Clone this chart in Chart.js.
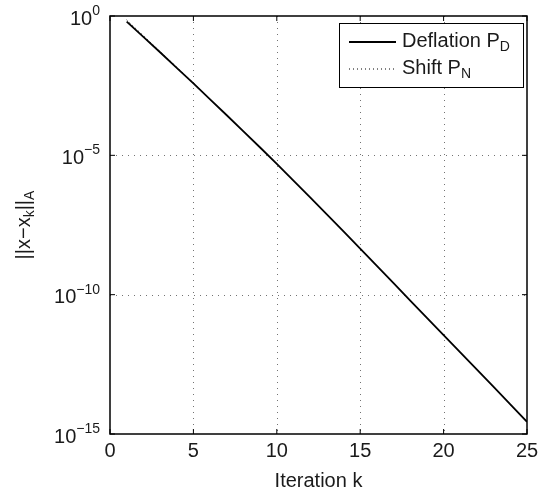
<!DOCTYPE html>
<html>
<head>
<meta charset="utf-8">
<script src="https://cdn.jsdelivr.net/npm/chart.js"></script>
<style>
    html, body { margin: 0; padding: 0; background: #fff; }
    #wrap { width: 543px; height: 494px; }
</style>
</head>
<body>
<div id="wrap"><canvas id="myChart" width="543" height="494"></canvas></div>

<script>
    // iteration numbers and A-norm errors for both preconditioners
    var iterations = [1, 2, 3, 4, 5, 6, 7, 8, 9, 10, 11, 12, 13, 14, 15, 16, 17, 18, 19, 20, 21, 22, 23, 24, 25];
    var deflationErr = [6.31e-1, 1.78e-1, 5.01e-2, 1.38e-2, 3.80e-3, 1.02e-3, 2.75e-4, 7.24e-5, 1.91e-5, 4.90e-6,
        1.23e-6, 3.09e-7, 7.59e-8, 1.86e-8, 4.47e-9, 1.07e-9, 2.57e-10, 6.17e-11, 1.48e-11, 3.55e-12,
        8.51e-13, 2.04e-13, 4.90e-14, 1.15e-14, 2.75e-15];
    var shiftErr = [7.24e-1, 1.95e-1, 5.37e-2, 1.45e-2, 3.98e-3, 1.02e-3, 2.75e-4, 7.24e-5, 1.91e-5, 4.90e-6,
        1.23e-6, 3.09e-7, 7.59e-8, 1.86e-8, 4.47e-9, 1.07e-9, 2.57e-10, 6.17e-11, 1.48e-11, 3.55e-12,
        8.51e-13, 2.04e-13, 4.90e-14, 1.15e-14, 2.75e-15];
    var xTicks = [0, 5, 10, 15, 20, 25];
    var yExponents = [0, -5, -10, -15];

    var FONT = '"Liberation Sans", Arial, sans-serif';
    var BIG = '20px ' + FONT, SMALL = '14px ' + FONT;
    var gridDash = [1, 5];

    function pts(ys) {
        return iterations.map(function (k, i) { return { x: k, y: ys[i] }; });
    }

    // axes frame, dotted grid, inward ticks, labels with super/subscripts, legend
    var matlabAxes = {
        id: 'matlabAxes',
        beforeDatasetsDraw: function (chart) {
            var ctx = chart.ctx, a = chart.chartArea;
            var xs = chart.scales.x, ys = chart.scales.y;
            ctx.save();
            ctx.strokeStyle = 'rgba(0,0,0,0.55)';
            ctx.lineWidth = 1;
            ctx.setLineDash(gridDash);
            xTicks.forEach(function (t) {
                if (t === 0 || t === 25) return;
                var px = Math.round(xs.getPixelForValue(t)) + 0.5;
                ctx.beginPath(); ctx.moveTo(px, a.top); ctx.lineTo(px, a.bottom); ctx.stroke();
            });
            yExponents.forEach(function (e) {
                if (e === 0 || e === -15) return;
                var py = Math.round(ys.getPixelForValue(Math.pow(10, e))) + 0.5;
                ctx.beginPath(); ctx.moveTo(a.left, py); ctx.lineTo(a.right, py); ctx.stroke();
            });
            ctx.restore();
        },
        afterDatasetsDraw: function (chart) {
            var ctx = chart.ctx, a = chart.chartArea;
            var xs = chart.scales.x, ys = chart.scales.y;
            ctx.save();
            ctx.setLineDash([]);
            ctx.strokeStyle = '#000';
            ctx.lineWidth = 1.5;
            ctx.strokeRect(a.left, a.top, a.right - a.left, a.bottom - a.top);

            // inward tick marks
            ctx.lineWidth = 1;
            xTicks.forEach(function (t) {
                var px = xs.getPixelForValue(t);
                ctx.beginPath();
                ctx.moveTo(px, a.bottom); ctx.lineTo(px, a.bottom - 5);
                ctx.moveTo(px, a.top); ctx.lineTo(px, a.top + 5);
                ctx.stroke();
            });
            yExponents.forEach(function (e) {
                var py = ys.getPixelForValue(Math.pow(10, e));
                ctx.beginPath();
                ctx.moveTo(a.left, py); ctx.lineTo(a.left + 5, py);
                ctx.moveTo(a.right, py); ctx.lineTo(a.right - 5, py);
                ctx.stroke();
            });

            ctx.fillStyle = '#1a1a1a';
            // x tick labels
            ctx.font = BIG;
            ctx.textAlign = 'center';
            ctx.textBaseline = 'middle';
            xTicks.forEach(function (t) {
                ctx.fillText(String(t), xs.getPixelForValue(t), a.bottom + 17);
            });
            ctx.fillText('Iteration k', (a.left + a.right) / 2, a.bottom + 47);

            // y tick labels: 10^e
            yExponents.forEach(function (e) {
                var py = ys.getPixelForValue(Math.pow(10, e));
                var exp = e === 0 ? '0' : '\u2212' + String(-e);
                ctx.font = SMALL;
                var ew = ctx.measureText(exp).width;
                ctx.textAlign = 'right';
                ctx.fillText(exp, a.left - 10, py - 5);
                ctx.font = BIG;
                ctx.fillText('10', a.left - 10 - ew, py + 3);
            });

            // y axis title ||x-x_k||_A
            ctx.translate(24, (a.top + a.bottom) / 2);
            ctx.rotate(-Math.PI / 2);
            var p1 = '||x\u2212x', p2 = 'k', p3 = '||', p4 = 'A';
            ctx.font = BIG;
            var w1 = ctx.measureText(p1).width, w3 = ctx.measureText(p3).width;
            ctx.font = SMALL;
            var w2 = ctx.measureText(p2).width, w4 = ctx.measureText(p4).width;
            var x0 = -(w1 + w2 + w3 + w4) / 2;
            ctx.textAlign = 'left';
            ctx.font = BIG;
            ctx.fillText(p1, x0, 0);
            ctx.font = SMALL;
            ctx.fillText(p2, x0 + w1, 6);
            ctx.font = BIG;
            ctx.fillText(p3, x0 + w1 + w2, 0);
            ctx.font = SMALL;
            ctx.fillText(p4, x0 + w1 + w2 + w3, 6);
            ctx.restore();

            // legend box
            ctx.save();
            var lx = 339, ly = 23, lw = 184, lh = 64;
            ctx.fillStyle = '#fff';
            ctx.fillRect(lx, ly, lw, lh);
            ctx.strokeStyle = '#000';
            ctx.lineWidth = 1;
            ctx.strokeRect(lx + 0.5, ly + 0.5, lw, lh);
            var entries = [
                { name: 'Deflation P', sub: 'D', dash: [], width: 1.8, y: ly + 18 },
                { name: 'Shift P', sub: 'N', dash: [1, 3], width: 1, y: ly + 45 }
            ];
            entries.forEach(function (en) {
                ctx.strokeStyle = '#000';
                ctx.lineWidth = en.width;
                ctx.setLineDash(en.dash);
                ctx.beginPath(); ctx.moveTo(349, en.y + 1); ctx.lineTo(396, en.y + 1); ctx.stroke();
                ctx.setLineDash([]);
                ctx.fillStyle = '#1a1a1a';
                ctx.textAlign = 'left';
                ctx.textBaseline = 'middle';
                ctx.font = BIG;
                ctx.fillText(en.name, 402, en.y);
                var nw = ctx.measureText(en.name).width;
                ctx.font = SMALL;
                ctx.fillText(en.sub, 402 + nw, en.y + 6);
            });
            ctx.restore();
        }
    };

    var ctx = document.getElementById('myChart').getContext('2d');
    var myChart = new Chart(ctx, {
        type: 'line',
        data: {
            datasets: [{
                label: 'Deflation P_D',
                data: pts(deflationErr),
                borderColor: '#000',
                borderWidth: 1.8,
                pointRadius: 0,
                fill: false
            }, {
                label: 'Shift P_N',
                data: pts(shiftErr),
                borderColor: '#000',
                borderWidth: 1,
                borderDash: [1, 3],
                pointRadius: 0,
                fill: false
            }]
        },
        options: {
            responsive: false,
            animation: false,
            layout: { padding: { left: 110, right: 16, top: 16, bottom: 60 } },
            plugins: { legend: { display: false }, tooltip: { enabled: false } },
            scales: {
                x: {
                    type: 'linear', min: 0, max: 25,
                    ticks: { display: false },
                    grid: { display: false, drawTicks: false },
                    border: { display: false }
                },
                y: {
                    type: 'logarithmic', min: 1e-15, max: 1,
                    ticks: { display: false },
                    grid: { display: false, drawTicks: false },
                    border: { display: false }
                }
            }
        },
        plugins: [matlabAxes]
    });
</script>
</body>
</html>
